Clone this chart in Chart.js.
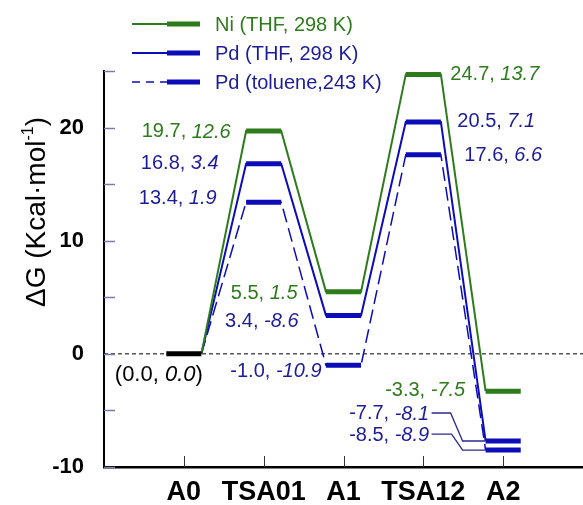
<!DOCTYPE html>
<html>
<head>
<meta charset="utf-8">
<script src="https://cdn.jsdelivr.net/npm/chart.js@4.4.0/dist/chart.umd.min.js"></script>
<style>
	html, body { margin: 0; padding: 0; background: #fff; }
</style>
</head>
<body>
<canvas id="myChart" width="583" height="505"></canvas>
<script>
// Data
const categories = ["A0", "TSA01", "A1", "TSA12", "A2"];
const niTHF = [0.0, 19.7, 5.5, 24.7, -3.3];
const niTHFItalic = [0.0, 12.6, 1.5, 13.7, -7.5];
const pdTHF = [0.0, 16.8, 3.4, 20.5, -7.7];
const pdTHFItalic = [0.0, 3.4, -8.6, 7.1, -8.1];
const pdToluene = [0.0, 13.4, -1.0, 17.6, -8.5];
const pdTolueneItalic = [0.0, 1.9, -10.9, 6.6, -8.9];
const seriesNames = ["Ni (THF, 298 K)", "Pd (THF, 298 K)", "Pd (toluene,243 K)"];
const yTickValues = [-10, -5, 0, 5, 10, 15, 20, 25];
const yTickLabels = [-10, 0, 10, 20];

const GREEN = "#2e7b1c";
const BLUE = "#0c0cb8";
const BLUE_TEXT = "#1c1c98";
const FONT = "'Liberation Sans', Arial, sans-serif";
const HALF = 0.22; // half width of a level bar, in category units

// thin line: end of one level -> start of the next
const pathPoints = (vals) => {
	const pts = [];
	vals.forEach((v, i) => {
		if (i > 0) pts.push({ x: i - HALF, y: v });
		if (i < vals.length - 1) pts.push({ x: i + HALF, y: v });
	});
	return pts;
};

// thick levels (A0 drawn separately in black)
const barPoints = (vals) => {
	const pts = [];
	vals.forEach((v, i) => {
		if (i === 0) return;
		pts.push({ x: i - HALF, y: v }, { x: i + HALF, y: v }, { x: i + 0.5, y: null });
	});
	return pts;
};

const base = { pointRadius: 0, tension: 0, fill: false, spanGaps: false, borderCapStyle: "butt" };

// label offsets in px from (category pixel, level pixel): [dx, dy, align]
const labelPlacement = [
	[null, [-33, 1, "right"], [-46, 2, "right"], [27, 0, "left"], [-38, -1, "right"]],
	[null, [-45, 0, "right"], [-45, 6, "right"], [34, 0, "left"], [-74, -27, "right"]],
	[null, [-47, -4, "right"], [-22, 6, "right"], [41, 1, "left"], [-74, -15, "right"]],
];
// leader lines from A2 labels to the bars, px relative to the bar's left end
const leaders = [
	null,
	[[-54, -28], [-35, -28], [-23, 0], [0, 0]],
	[[-54, -16], [-34, -16], [-23, 0], [0, 0]],
];

const drawPair = (ctx, x, y, a, b, color, align, size, wrap) => {
	const t0 = wrap ? "(" : "";
	const t1 = `${t0}${a.toFixed(1)}, `;
	const t2 = `${b.toFixed(1)}`;
	const t3 = wrap ? ")" : "";
	ctx.font = `${size}px ${FONT}`;
	const w1 = ctx.measureText(t1).width;
	const w3 = ctx.measureText(t3).width;
	ctx.font = `italic ${size}px ${FONT}`;
	const w2 = ctx.measureText(t2).width;
	const w = w1 + w2 + w3;
	let x0 = x;
	if (align === "right") x0 = x - w;
	if (align === "center") x0 = x - w / 2;
	ctx.fillStyle = color;
	ctx.textAlign = "left";
	ctx.textBaseline = "middle";
	ctx.font = `${size}px ${FONT}`;
	ctx.fillText(t1, x0, y);
	if (t3) ctx.fillText(t3, x0 + w1 + w2, y);
	ctx.font = `italic ${size}px ${FONT}`;
	ctx.fillText(t2, x0 + w1, y);
};

const decorations = {
	id: "decorations",
	afterDraw(chart) {
		const { ctx, chartArea, scales: { x, y } } = chart;
		ctx.save();

		// inward tick marks
		ctx.strokeStyle = "#7a7aa8";
		ctx.lineWidth = 1.5;
		yTickValues.forEach((v) => {
			const py = Math.round(y.getPixelForValue(v)) + 0.5;
			ctx.beginPath();
			ctx.moveTo(chartArea.left, py);
			ctx.lineTo(chartArea.left + 11, py);
			ctx.stroke();
		});
		ctx.strokeStyle = "#333";
		ctx.lineWidth = 1;
		categories.forEach((c, i) => {
			const px = Math.round(x.getPixelForValue(i)) + 0.5;
			ctx.beginPath();
			ctx.moveTo(px, chartArea.bottom);
			ctx.lineTo(px, chartArea.bottom - 11);
			ctx.stroke();
		});

		// value labels
		const series = [
			[niTHF, niTHFItalic, GREEN],
			[pdTHF, pdTHFItalic, BLUE_TEXT],
			[pdToluene, pdTolueneItalic, BLUE_TEXT],
		];
		series.forEach(([vals, ital, color], s) => {
			vals.forEach((v, i) => {
				const p = labelPlacement[s][i];
				if (!p) return;
				drawPair(ctx, x.getPixelForValue(i) + p[0], y.getPixelForValue(v) + p[1], v, ital[i], color, p[2], 20);
			});
			const l = leaders[s];
			if (l) {
				const bx = x.getPixelForValue(categories.length - 1 - HALF);
				const by = y.getPixelForValue(vals[vals.length - 1]);
				ctx.strokeStyle = "#2a2a8c";
				ctx.lineWidth = 1.3;
				ctx.beginPath();
				l.forEach(([dx, dy], k) => {
					if (k === 0) ctx.moveTo(bx + dx, by + dy);
					else ctx.lineTo(bx + dx, by + dy);
				});
				ctx.stroke();
			}
		});
		drawPair(ctx, x.getPixelForValue(0) - 25, y.getPixelForValue(niTHF[0]) + 21, niTHF[0], niTHFItalic[0], "#000", "center", 22, true);

		// y axis title
		ctx.save();
		ctx.translate(37, 212);
		ctx.rotate(-Math.PI / 2);
		ctx.fillStyle = "#000";
		ctx.textBaseline = "middle";
		ctx.textAlign = "left";
		const big = `28px ${FONT}`;
		const small = `16px ${FONT}`;
		const parts = [["\u0394G (Kcal\u00b7mol", big, 0], ["-1", small, -8], [")", big, 0]];
		let total = 0;
		parts.forEach(([t, f]) => { ctx.font = f; total += ctx.measureText(t).width; });
		let cx = -total / 2;
		parts.forEach(([t, f, dy]) => {
			ctx.font = f;
			ctx.fillText(t, cx, dy);
			cx += ctx.measureText(t).width;
		});
		ctx.restore();

		// legend
		const legendColors = [GREEN, BLUE, BLUE];
		const legendText = [GREEN, BLUE_TEXT, BLUE_TEXT];
		const rowsY = [24, 53, 82];
		seriesNames.forEach((name, k) => {
			const ly = rowsY[k];
			ctx.strokeStyle = legendColors[k];
			ctx.lineWidth = k === 2 ? 1.5 : 2;
			ctx.setLineDash(k === 2 ? [8, 6] : []);
			ctx.beginPath();
			ctx.moveTo(132, ly);
			ctx.lineTo(167, ly);
			ctx.stroke();
			ctx.setLineDash([]);
			ctx.lineWidth = 5;
			ctx.beginPath();
			ctx.moveTo(167, ly);
			ctx.lineTo(200, ly);
			ctx.stroke();
			ctx.fillStyle = legendText[k];
			ctx.font = `20px ${FONT}`;
			ctx.textAlign = "left";
			ctx.textBaseline = "middle";
			ctx.fillText(name, 215, ly + 1);
		});
		ctx.restore();
	},
};

const ctx = document.getElementById("myChart").getContext("2d");
new Chart(ctx, {
	type: "line",
	data: {
		datasets: [
			{ ...base, data: barPoints(niTHF), borderColor: GREEN, borderWidth: 5, order: 0 },
			{ ...base, data: barPoints(pdTHF), borderColor: BLUE, borderWidth: 5, order: 0 },
			{ ...base, data: barPoints(pdToluene), borderColor: BLUE, borderWidth: 5, order: 0 },
			{ ...base, data: [{ x: -HALF, y: 0 }, { x: HALF, y: 0 }], borderColor: "#000", borderWidth: 5, order: 0 },
			{ ...base, data: pathPoints(niTHF), borderColor: GREEN, borderWidth: 2, order: 1 },
			{ ...base, data: pathPoints(pdTHF), borderColor: BLUE, borderWidth: 2, order: 1 },
			{ ...base, data: pathPoints(pdToluene), borderColor: BLUE, borderWidth: 1.5, borderDash: [14, 6], order: 1 },
			{ ...base, data: [{ x: -1, y: 0 }, { x: 5, y: 0 }], borderColor: "#000", borderWidth: 1, borderDash: [4, 3], order: 2 },
		],
	},
	options: {
		responsive: false,
		animation: false,
		layout: { padding: { top: 71, left: 0, right: 0, bottom: 0 } },
		plugins: { legend: { display: false }, tooltip: { enabled: false } },
		scales: {
			x: {
				type: "linear",
				min: -1,
				max: 5,
				afterBuildTicks: (s) => { s.ticks = categories.map((c, i) => ({ value: i })); },
				afterFit: (s) => { s.height = 38; },
				ticks: {
					callback: (v) => categories[v] ?? "",
					font: { family: FONT, size: 27, weight: "bold" },
					color: "#000",
					padding: 9,
					maxRotation: 0,
					autoSkip: false,
				},
				grid: { display: false, drawTicks: false },
				border: { display: true, color: "#000", width: 2.5 },
			},
			y: {
				type: "linear",
				min: -10,
				max: 25,
				afterBuildTicks: (s) => { s.ticks = yTickValues.map((v) => ({ value: v })); },
				afterFit: (s) => { s.width = 104; },
				ticks: {
					callback: (v) => (yTickLabels.includes(v) ? String(v) : ""),
					font: { family: FONT, size: 22, weight: "bold" },
					color: "#000",
					padding: 20,
				},
				grid: { display: false, drawTicks: false },
				border: { display: true, color: "#000", width: 2 },
			},
		},
	},
	plugins: [decorations],
});
</script>
</body>
</html>
